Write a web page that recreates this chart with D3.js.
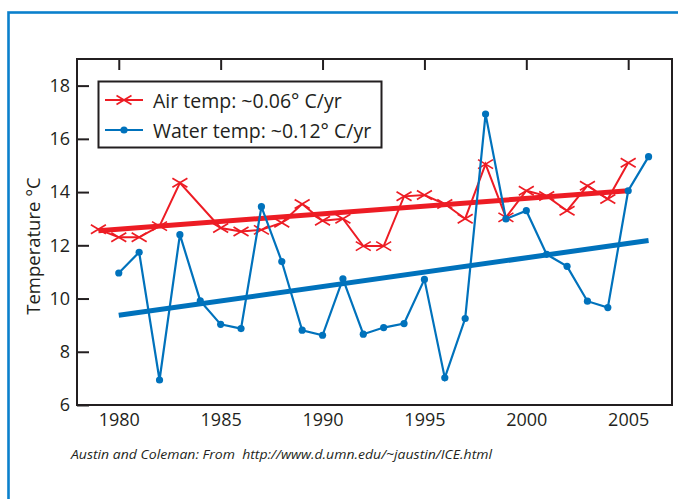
<!DOCTYPE html>
<html>
<head>
<meta charset="utf-8">
<script src="https://cdn.jsdelivr.net/npm/d3@7"></script>
<style>
  body { margin: 0; background: #fff; }
  text { font-family: "Open Sans", sans-serif; fill: #231f20; }
</style>
</head>
<body>
<div id="chart-area"></div>
<script>
// data
const airYears = [1979, 1980, 1981, 1982, 1983, 1985, 1986, 1987, 1988, 1989, 1990, 1991, 1992, 1993,
  1994, 1995, 1996, 1997, 1998, 1999, 2000, 2001, 2002, 2003, 2004, 2005]
const airTemps = [12.6, 12.3, 12.3, 12.72, 14.35, 12.65, 12.52, 12.58, 12.85, 13.55, 12.92, 13.0, 11.97, 11.97,
  13.84, 13.89, 13.55, 13.0, 15.05, 13.05, 14.05, 13.85, 13.3, 14.24, 13.74, 15.1]

const waterYears = [1980, 1981, 1982, 1983, 1984, 1985, 1986, 1987, 1988, 1989, 1990, 1991, 1992, 1993,
  1994, 1995, 1996, 1997, 1998, 1999, 2000, 2001, 2002, 2003, 2004, 2005, 2006]
const waterTemps = [10.96, 11.74, 6.94, 12.4, 9.91, 9.03, 8.87, 13.45, 11.39, 8.81, 8.62, 10.74, 8.66, 8.91,
  9.06, 10.72, 7.02, 9.25, 16.93, 12.99, 13.3, 11.66, 11.21, 9.9, 9.66, 14.05, 15.33]

// linear fits (end points)
const airTrendYears = [1979, 2005]
const airTrend = [12.55, 14.05]
const waterTrendYears = [1980, 2006]
const waterTrend = [9.37, 12.18]

const xTicks = [1980, 1985, 1990, 1995, 2000, 2005]
const yTicks = [6, 8, 10, 12, 14, 16, 18]
const legendLabels = ["Air temp: ~0.06\u00b0 C/yr", "Water temp: ~0.12\u00b0 C/yr"]
const source = "Austin and Coleman: From  http://www.d.umn.edu/~jaustin/ICE.html"

const RED = "#ed1c24"
const BLUE = "#0072bc"
const INK = "#231f20"

const W = 678, H = 499
const PLOT = { LEFT: 77, RIGHT: 672, TOP: 59, BOTTOM: 405 }

const svg = d3.select("#chart-area").append("svg")
  .attr("width", W)
  .attr("height", H)

// blue frame of the figure box
svg.append("rect")
  .attr("x", 8.5).attr("y", 12.5)
  .attr("width", 720).attr("height", 600)
  .attr("fill", "none")
  .attr("stroke", "#0a80cc")
  .attr("stroke-width", 2.6)

const x = d3.scaleLinear().domain([1977.95, 2007.15]).range([PLOT.LEFT, PLOT.RIGHT])
const y = d3.scaleLinear().domain([6, 19]).range([PLOT.BOTTOM, PLOT.TOP])

const zip = (xs, ys) => xs.map((d, i) => ({ year: d, value: ys[i] }))
const air = zip(airYears, airTemps)
const water = zip(waterYears, waterTemps)

// axes: ticks point inward, top and left only
const topAxis = svg.append("g")
  .attr("transform", `translate(0, ${PLOT.TOP})`)
  .call(d3.axisBottom(x).tickValues(xTicks).tickSize(11).tickFormat(""))
topAxis.select(".domain").remove()
topAxis.selectAll("line").attr("stroke", INK).attr("stroke-width", 2)

const bottomAxis = svg.append("g")
  .attr("transform", `translate(0, ${PLOT.BOTTOM})`)
  .call(d3.axisBottom(x).tickValues(xTicks).tickSize(0).tickPadding(8).tickFormat(d3.format("d")))
bottomAxis.select(".domain").remove()
bottomAxis.selectAll("text").attr("font-size", 18).attr("fill", INK)
  .attr("font-family", "'Open Sans', sans-serif")

const leftAxis = svg.append("g")
  .attr("transform", `translate(${PLOT.LEFT}, 0)`)
  .call(d3.axisRight(y).tickValues(yTicks).tickSize(12).tickFormat(""))
leftAxis.select(".domain").remove()
leftAxis.selectAll("line").attr("stroke", INK).attr("stroke-width", 2)

const leftLabels = svg.append("g")
  .attr("transform", `translate(${PLOT.LEFT}, 0)`)
  .call(d3.axisLeft(y).tickValues(yTicks).tickSize(0).tickPadding(7))
leftLabels.select(".domain").remove()
leftLabels.selectAll("text").attr("font-size", 18).attr("fill", INK)
  .attr("font-family", "'Open Sans', sans-serif")

// plot frame
svg.append("rect")
  .attr("x", PLOT.LEFT).attr("y", PLOT.TOP)
  .attr("width", PLOT.RIGHT - PLOT.LEFT).attr("height", PLOT.BOTTOM - PLOT.TOP)
  .attr("fill", "none")
  .attr("stroke", INK)
  .attr("stroke-width", 2)

// y-axis title
svg.append("text")
  .attr("transform", `translate(32, 246) rotate(-90)`)
  .attr("text-anchor", "middle")
  .attr("dominant-baseline", "central")
  .attr("font-size", 18.5)
  .text("Temperature \u00b0C")

const line = d3.line()
  .x(d => x(d.year))
  .y(d => y(d.value))

const xMark = "M-7.5,-4.5L7.5,4.5M-7.5,4.5L7.5,-4.5"

// air temperature
svg.append("path")
  .attr("d", line(air))
  .attr("fill", "none")
  .attr("stroke", RED)
  .attr("stroke-width", 2)

svg.append("g").selectAll("path")
  .data(air)
  .join("path")
  .attr("transform", d => `translate(${x(d.year)}, ${y(d.value)})`)
  .attr("d", xMark)
  .attr("fill", "none")
  .attr("stroke", RED)
  .attr("stroke-width", 1.7)

svg.append("path")
  .attr("d", line(zip(airTrendYears, airTrend)))
  .attr("fill", "none")
  .attr("stroke", RED)
  .attr("stroke-width", 5)

// water temperature
svg.append("path")
  .attr("d", line(water))
  .attr("fill", "none")
  .attr("stroke", BLUE)
  .attr("stroke-width", 2.2)

svg.append("g").selectAll("circle")
  .data(water)
  .join("circle")
  .attr("cx", d => x(d.year))
  .attr("cy", d => y(d.value))
  .attr("r", 3.6)
  .attr("fill", BLUE)

svg.append("path")
  .attr("d", line(zip(waterTrendYears, waterTrend)))
  .attr("fill", "none")
  .attr("stroke", BLUE)
  .attr("stroke-width", 5)

// legend
const legend = svg.append("g")
legend.append("rect")
  .attr("x", 98.5).attr("y", 81.5)
  .attr("width", 283).attr("height", 66)
  .attr("fill", "#fff")
  .attr("stroke", INK)
  .attr("stroke-width", 2)

const rows = legend.selectAll("g")
  .data(legendLabels)
  .join("g")
  .attr("transform", (d, i) => `translate(105, ${100 + i * 30})`)

rows.append("line")
  .attr("x1", 0).attr("x2", 38)
  .attr("stroke", (d, i) => i === 0 ? RED : BLUE)
  .attr("stroke-width", 2)

rows.filter((d, i) => i === 0).append("path")
  .attr("transform", "translate(19, 0)")
  .attr("d", xMark)
  .attr("fill", "none")
  .attr("stroke", RED)
  .attr("stroke-width", 1.7)

rows.filter((d, i) => i === 1).append("circle")
  .attr("cx", 19)
  .attr("r", 3.6)
  .attr("fill", BLUE)

rows.append("text")
  .attr("x", 48)
  .attr("dominant-baseline", "central")
  .attr("font-size", 19.5)
  .text(d => d)

// source note
svg.append("text")
  .attr("x", 71).attr("y", 459)
  .attr("font-size", 12.5)
  .attr("font-style", "italic")
  .attr("textLength", 421)
  .attr("lengthAdjust", "spacingAndGlyphs")
  .style("white-space", "pre")
  .text(source)
</script>
</body>
</html>
